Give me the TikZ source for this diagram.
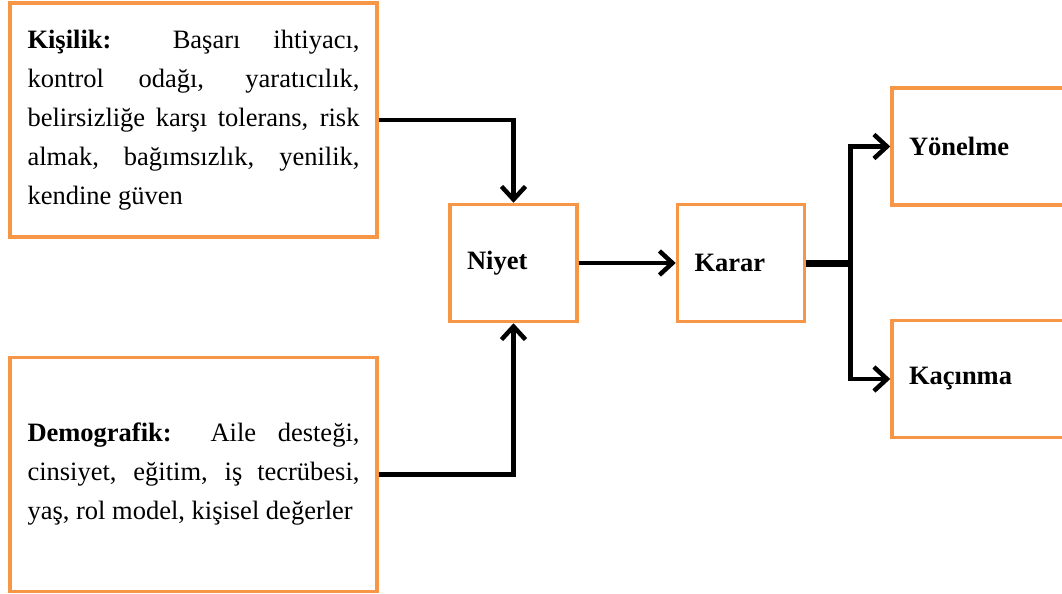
\documentclass[tikz,border=0pt]{standalone}
\usepackage{fontspec}
\setmainfont{Liberation Serif}
\usetikzlibrary{arrows.meta,positioning}
\definecolor{boxorange}{RGB}{247,150,70}
\tolerance=9999
\hyphenpenalty=10000

\begin{document}
\begin{tikzpicture}[x=0.5pt,y=-0.5pt,
  every node/.style={font=\fontsize{13.25}{19.5}\selectfont,inner ysep=0pt},%
  bx/.style={draw=boxorange,line width=1.75pt,fill=white},%
  big/.style={bx,minimum width=183.5pt,minimum height=117pt,%
    text width=166pt,inner xsep=8.75pt,align=justify},%
  sm/.style={bx,minimum width=63.5pt,minimum height=58.5pt,%
    text width=46.5pt,inner xsep=8.5pt,align=left,%
    font=\fontsize{13.25}{19.5}\selectfont\bfseries},%
  wd/.style={sm,minimum width=87.5pt,text width=70.5pt},%
  e/.style={-{Straight Barb[length=6.5pt,width=12pt]},line width=2.25pt},%
  ]
  \useasboundingbox (0,0) rectangle (1062,594);

  \node (kis) [big] at (193.5,120)
  {\textbf{Kişilik:} Başarı ihtiyacı,\linebreak kontrol odağı, yaratıcılık,\linebreak
    belirsizliğe karşı tolerans, risk\linebreak almak, bağımsızlık, yenilik,\linebreak
    kendine güven};

  \node (dem) [big,below=58.5pt of kis]
  {\textbf{Demografik:} Aile desteği,\linebreak cinsiyet, eğitim, iş tecrübesi,\linebreak
    yaş, rol model, kişisel değerler};

  \node (niyet) [sm] at (513.5,263) {Niyet};
  \node (karar) [sm,right=48.5pt of niyet] {Karar};

  \node (yon) [wd] at (979.5,146.5) {Yönelme};
  \node (kac) [wd,below=56pt of yon] {Kaçınma};

  \coordinate [right=22pt of karar.east] (jn);

  \draw [e] (kis.east) -| (niyet.north);
  \draw [e] (dem.east) -| (niyet.south);
  \draw [e] (niyet) -- (karar);
  \draw [line width=3.5pt] (karar.east) -- (jn);
  \draw [e] (jn) |- (yon.west);
  \draw [e] (jn) |- (kac.west);
\end{tikzpicture}
\end{document}
